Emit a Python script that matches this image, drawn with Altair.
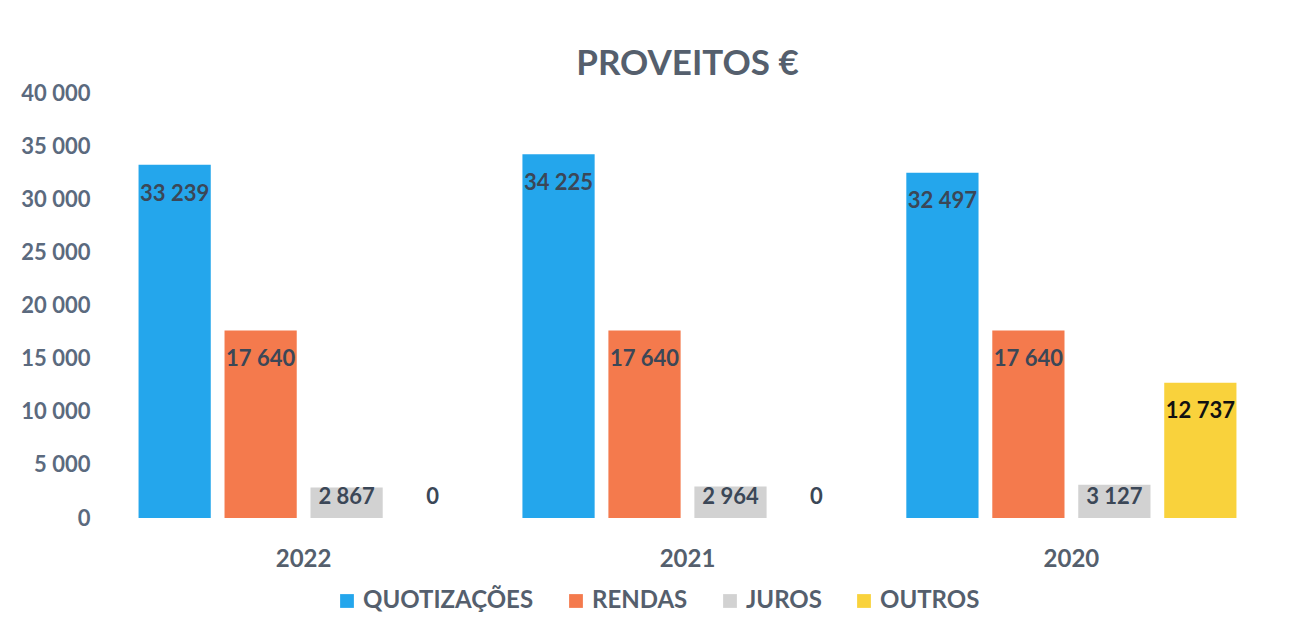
import altair as alt
import pandas as pd

years = ["2022", "2021", "2020"]
series = ["QUOTIZAÇÕES", "RENDAS", "JUROS", "OUTROS"]
quotizacoes = [33239, 34225, 32497]
rendas = [17640, 17640, 17640]
juros = [2867, 2964, 3127]
outros = [0, 0, 12737]
colors = ["#24a6ec", "#f47a4d", "#d2d2d2", "#f9d23c"]

rows = []
for name, vals in zip(series, [quotizacoes, rendas, juros, outros]):
    for y, v in zip(years, vals):
        rows.append({"ano": y, "serie": name, "valor": v})
df = pd.DataFrame(rows)

FONT = "Lato"
AXIS_COLOR = "#5b6a7e"
TEXT_COLOR = "#555f6d"

x = alt.X("ano:N", sort=years, title=None,
          scale=alt.Scale(paddingInner=0.14, paddingOuter=0.09),
          axis=alt.Axis(labelFontSize=24, labelFontWeight="bold", labelColor=TEXT_COLOR,
                        labelFont=FONT, domain=False, ticks=False, labelPadding=29, labelAngle=0))
xoff = alt.XOffset("serie:N", sort=series, scale=alt.Scale(paddingInner=0.16))

base = alt.Chart(df).encode(x=x, xOffset=xoff)

bars = base.mark_bar().encode(
    y=alt.Y("valor:Q", title=None,
            scale=alt.Scale(domain=[0, 40000]),
            axis=alt.Axis(values=list(range(0, 40001, 5000)),
                          labelExpr="replace(format(datum.value, ','), ',', ' ')",
                          labelFontSize=22, labelFontWeight="bold", labelColor=AXIS_COLOR,
                          labelFont=FONT, domain=False, ticks=False, grid=False,
                          labelPadding=14)),
    color=alt.Color("serie:N", sort=series,
                    scale=alt.Scale(domain=series, range=colors),
                    legend=alt.Legend(title=None, orient="none", direction="horizontal",
                                      legendX=231, legendY=496,
                                      symbolType="square", symbolSize=190,
                                      labelFontSize=24, labelFontWeight="bold",
                                      labelColor=TEXT_COLOR, labelFont=FONT,
                                      labelLimit=0, columnPadding=30)),
)

labels = base.transform_calculate(
    ly="max(datum.valor - 2700, 2000)",
    lbl="replace(format(datum.valor, ','), ',', ' ')",
).mark_text(fontSize=22, fontWeight="bold", font=FONT, baseline="middle").encode(
    y=alt.Y("ly:Q"),
    text="lbl:N",
    color=alt.condition("datum.serie == 'OUTROS' && datum.valor > 0",
                        alt.value("#111111"), alt.value("#3b4757")),
)

chart = alt.layer(bars, labels).properties(
    width=1167, height=425,
    background="white",
    title=alt.Title("PROVEITOS €", fontSize=35, fontWeight="bold", color=TEXT_COLOR,
                    font=FONT, anchor="middle", offset=0),
    padding={"left": 12, "top": 39, "right": 10, "bottom": 5},
).configure_view(stroke=None, strokeWidth=0)

chart.save("out.html", embed_options={"renderer": "svg", "actions": False})
